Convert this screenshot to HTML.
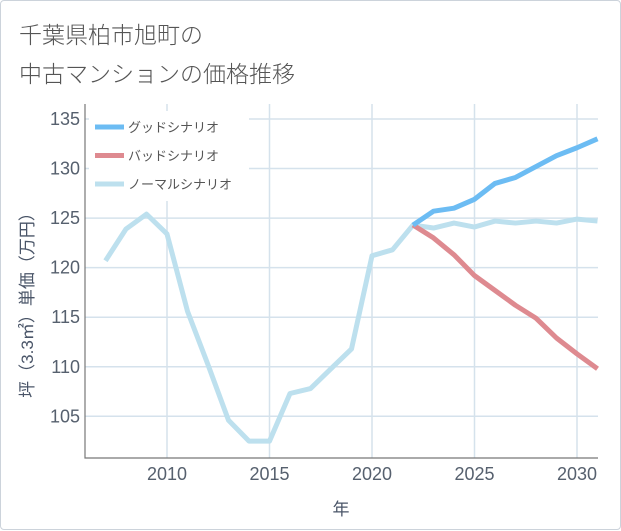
<!DOCTYPE html>
<html><head><meta charset="utf-8"><style>
body{margin:0;background:#fff;font-family:"Liberation Sans","Noto Sans CJK JP",sans-serif;}
#card{position:absolute;left:0;top:0;width:619px;height:528px;border:1px solid #ccd3db;border-radius:4px;background:#fff;}
.title{position:absolute;left:18px;font-size:23px;color:#555;font-weight:300;}
</style></head><body>
<div id="card">
<div class="title" style="top:15px">千葉県柏市旭町の</div>
<div class="title" style="top:54px">中古マンションの価格推移</div>
<svg id="chart" width="621" height="530" style="position:absolute;left:0;top:0"></svg>
</div>
<script>
const years=[2007,2008,2009,2010,2011,2012,2013,2014,2015,2016,2017,2018,2019,2020,2021,2022,2023,2024,2025,2026,2027,2028,2029,2030,2031];
const normalValues=[120.7,123.9,125.4,123.4,115.6,110.2,104.6,102.5,102.5,107.3,107.8,109.8,111.8,121.2,121.8,124.3,124.0,124.5,124.1,124.7,124.5,124.7,124.5,124.9,124.7];
const scenarioYears=[2022,2023,2024,2025,2026,2027,2028,2029,2030,2031];
const goodValues=[124.3,125.7,126.0,126.9,128.5,129.1,130.2,131.3,132.1,133.0];
const badValues=[124.3,123.0,121.3,119.2,117.7,116.2,114.9,112.9,111.3,109.8];
const xTicks=[2010,2015,2020,2025,2030];
const yTicks=[105,110,115,120,125,130,135];
const legendLabels=["グッドシナリオ","バッドシナリオ","ノーマルシナリオ"];
const legendColors=["#6cbcf3","#de8a90","#bde0ee"];

const L=84,R=597,T=103,B=457;
const x=v=>166+(v-2010)*20.5;
const y=v=>118+(135-v)*9.91;
const NS="http://www.w3.org/2000/svg";
const svg=document.getElementById('chart');
function mk(t,a){const e=document.createElementNS(NS,t);for(const k in a)e.setAttribute(k,a[k]);svg.appendChild(e);return e;}
for(const t of xTicks){
const g=mk('line',{x1:x(t),x2:x(t),y1:T,y2:B,stroke:'#d5e2ec','stroke-width':1.5});


const tx=mk('text',{x:x(t),y:479,'text-anchor':'middle','font-size':18,fill:'#56606e'});
tx.textContent=t;


}
for(const t of yTicks){
const g=mk('line',{x1:L,x2:R,y1:y(t),y2:y(t),stroke:'#d5e2ec','stroke-width':1.5});


const tx=mk('text',{x:79,y:y(t)+6,'text-anchor':'end','font-size':18,fill:'#56606e'});
tx.textContent=t;


}
const ax=mk('path',{d:`M${L},${T} V${B} H${R}`,stroke:'#777',fill:'none','stroke-width':1.2});


const lb=mk('rect',{x:88,y:110,width:160,height:90,fill:'#fff'});


function line(xs,vs,c,name){
const p=mk('polyline',{points:xs.map((v,i)=>x(v)+','+y(vs[i])).join(' '),fill:'none',stroke:c,'stroke-width':5,'stroke-linejoin':'round'});


}
line(years,normalValues,legendColors[2],'normal-scenario-line');
line(scenarioYears,badValues,legendColors[1],'bad-scenario-line');
line(scenarioYears,goodValues,legendColors[0],'good-scenario-line');
legendLabels.forEach((lab,i)=>{
const yy=126+i*28.5;
const s=mk('line',{x1:94,x2:123,y1:yy,y2:yy,stroke:legendColors[i],'stroke-width':5});


const t=mk('text',{x:127,y:yy+5,'font-size':13,fill:'#555'});
t.textContent=lab;


});
const yt=mk('text',{x:0,y:0,'font-size':17,fill:'#4a5568','text-anchor':'middle',transform:'translate(32,300) rotate(-90)'});
yt.textContent='坪（3.3㎡）単価（万円）';


const xt=mk('text',{x:340,y:514,'font-size':17,fill:'#4a5568','text-anchor':'middle'});
xt.textContent='年';


</script>
</body></html>
